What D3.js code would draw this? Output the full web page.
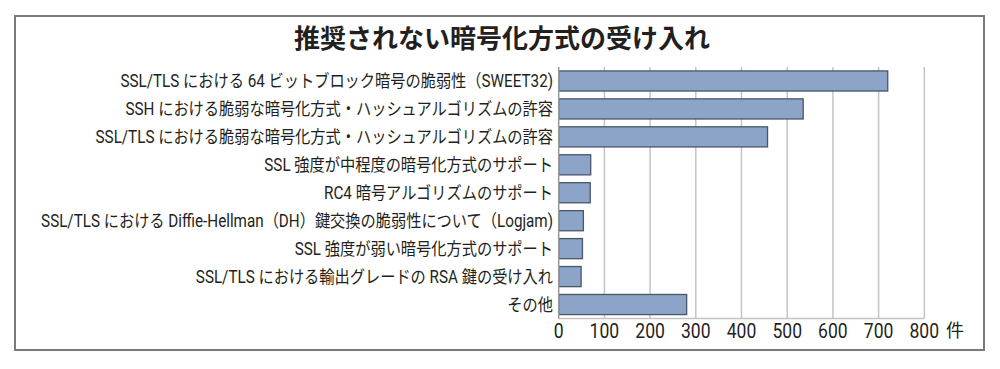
<!DOCTYPE html>
<html>
<head>
<meta charset="utf-8">
<script src="https://cdn.jsdelivr.net/npm/d3@7"></script>
<style>
  body { margin: 0; background: #fff; }
  svg text { font-family: "Roboto", "Noto Sans CJK JP", sans-serif; fill: #231f20; }
  svg text.title { font-family: "Noto Sans CJK JP", sans-serif; }
</style>
</head>
<body>
<svg id="chart" width="1000" height="369"></svg>
<script>
// データ
const categories = [
  "SSL/TLS における 64 ビットブロック暗号の脆弱性（SWEET32)",
  "SSH における脆弱な暗号化方式・ハッシュアルゴリズムの許容",
  "SSL/TLS における脆弱な暗号化方式・ハッシュアルゴリズムの許容",
  "SSL 強度が中程度の暗号化方式のサポート",
  "RC4 暗号アルゴリズムのサポート",
  "SSL/TLS における Diffie-Hellman（DH）鍵交換の脆弱性について（Logjam)",
  "SSL 強度が弱い暗号化方式のサポート",
  "SSL/TLS における輸出グレードの RSA 鍵の受け入れ",
  "その他"
];
const counts = [720, 535, 457, 70, 69, 54, 52, 49, 280];
const tickValues = [0, 100, 200, 300, 400, 500, 600, 700, 800];
const chartTitle = "推奨されない暗号化方式の受け入れ";
const unitLabel = "件";

const svg = d3.select("#chart");

// 外枠
svg.append("rect")
  .attr("x", 15).attr("y", 16)
  .attr("width", 969).attr("height", 334)
  .attr("fill", "none")
  .attr("stroke", "#7a7a7a")
  .attr("stroke-width", 2);

svg.append("text")
  .attr("class", "title")
  .attr("x", 502)
  .attr("y", 39)
  .attr("dy", "0.35em")
  .attr("text-anchor", "middle")
  .attr("font-size", 26)
  .attr("font-weight", "bold")
  .attr("fill", "#333")
  .text(chartTitle);

const x = d3.scaleLinear().domain([0, 800]).range([558.7, 924.3]);
const y = d3.scaleBand().domain(categories).range([67, 318.5])
  .paddingInner(0.28).paddingOuter(0.14);

// グリッド
svg.append("g")
  .selectAll("line")
  .data(tickValues.slice(1))
  .join("line")
  .attr("x1", d => x(d)).attr("x2", d => x(d))
  .attr("y1", 67).attr("y2", 318.5)
  .attr("stroke", "#c4c4c4")
  .attr("stroke-width", 1.5);

svg.append("line")
  .attr("x1", x(0)).attr("x2", x(800))
  .attr("y1", 318.5).attr("y2", 318.5)
  .attr("stroke", "#c4c4c4")
  .attr("stroke-width", 1.5);

svg.append("g")
  .selectAll("rect")
  .data(counts)
  .join("rect")
  .attr("x", x(0))
  .attr("y", (d, i) => y(categories[i]))
  .attr("width", d => x(d) - x(0))
  .attr("height", y.bandwidth())
  .attr("fill", "#8ba4c8")
  .attr("stroke", "#4b5568")
  .attr("stroke-width", 1.3);

svg.append("line")
  .attr("x1", x(0)).attr("x2", x(0))
  .attr("y1", 67).attr("y2", 318.5)
  .attr("stroke", "#999")
  .attr("stroke-width", 1.5);

// カテゴリラベル
svg.append("g")
  .selectAll("text")
  .data(categories)
  .join("text")
  .attr("transform", d => `translate(553,${y(d) + y.bandwidth() / 2}) scale(0.87,1)`)
  .attr("dy", "0.35em")
  .attr("text-anchor", "end")
  .attr("font-size", 17.5)
  .text(d => d);

// 目盛ラベル
svg.append("g")
  .selectAll("text")
  .data(tickValues)
  .join("text")
  .attr("transform", d => `translate(${x(d)},331) scale(0.9,1)`)
  .attr("dy", "0.35em")
  .attr("text-anchor", "middle")
  .attr("font-size", 19.5)
  .text(d => d);

svg.append("text")
  .attr("class", "title")
  .attr("x", 955)
  .attr("y", 331)
  .attr("dy", "0.35em")
  .attr("text-anchor", "middle")
  .attr("font-size", 18)
  .text(unitLabel);
</script>
</body>
</html>
